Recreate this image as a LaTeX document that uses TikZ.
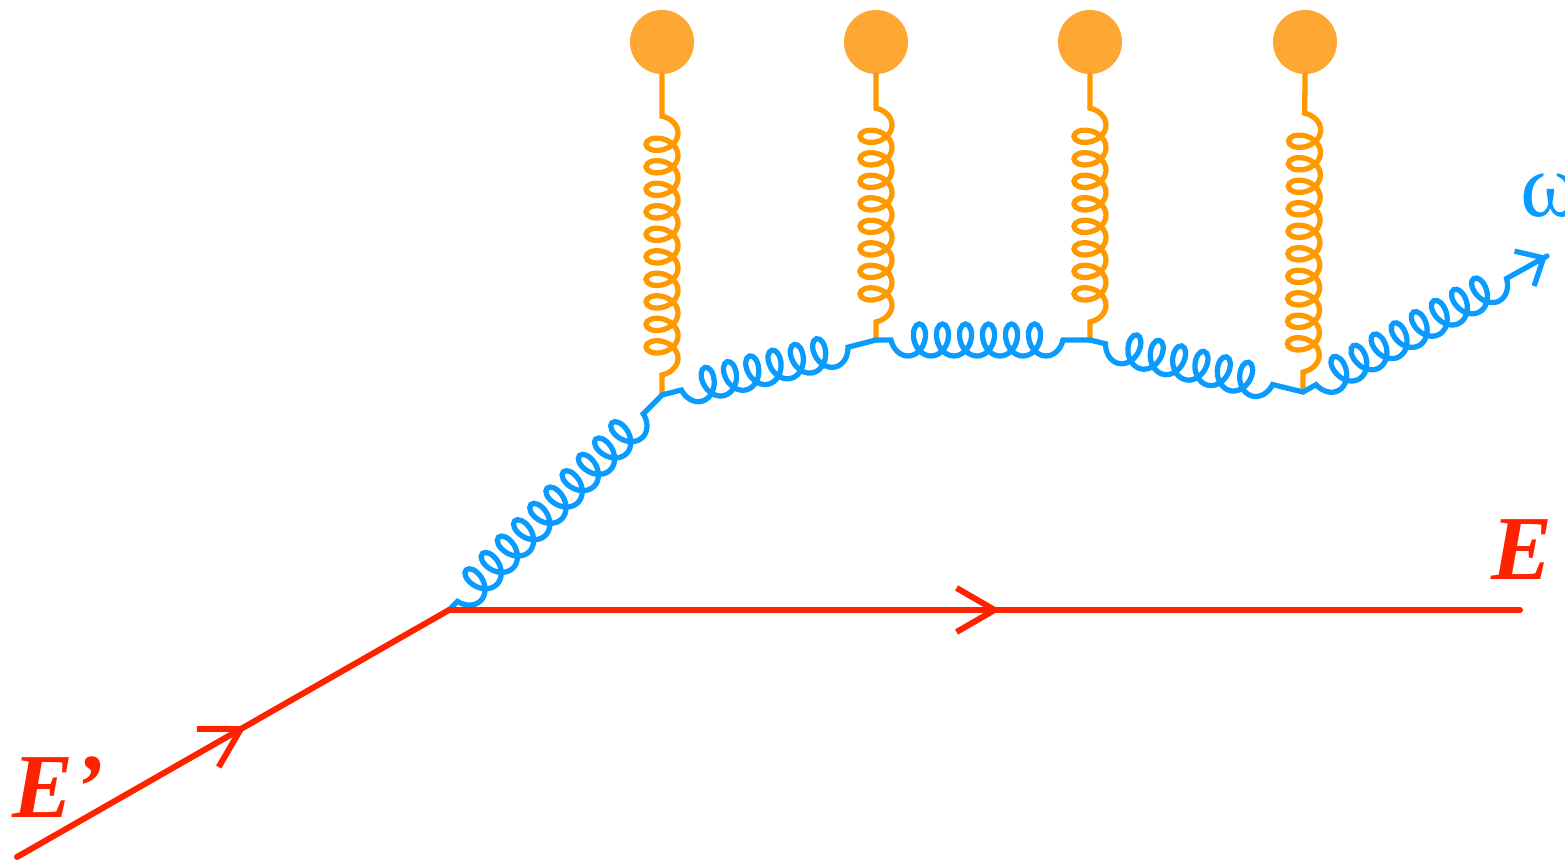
\documentclass[tikz,border=0pt]{standalone}
\usepackage{fontspec}
\setmainfont{Liberation Serif}
\usetikzlibrary{decorations.pathmorphing,decorations.markings,arrows.meta,calc}
\definecolor{fred}{HTML}{FF2200}
\definecolor{fblue}{HTML}{0A9BFF}
\definecolor{forange}{HTML}{FF9900}
\definecolor{fball}{HTML}{FFA733}
\begin{document}
\begin{tikzpicture}[x=0.01cm,y=-0.01cm,
  fermion/.style={draw=fred, line width=1.7pt, line cap=round},
  midarrow/.style={postaction={decorate, decoration={markings, mark=at position #1 with {\arrow[fred, line width=1.7pt]{Straight Barb[length=0.38cm,width=0.44cm]}}}}},
  bgl/.style 2 args={draw=fblue, line width=1.5pt, line cap=round, decorate, decoration={coil, mirror, aspect=0.7, amplitude=0.16cm, segment length=0.23cm, pre length=#1, post length=#2}},
  ogl/.style 2 args={draw=forange, line width=1.5pt, line cap=round, decorate, decoration={coil, mirror, aspect=0.7, amplitude=0.16cm, segment length=0.225cm, pre length=#1, post length=#2}},
  ball/.style={circle, fill=fball, minimum size=0.64cm, inner sep=0pt},
  lab/.style={font=\fontsize{26}{30}\selectfont\bfseries\itshape, text=fred, inner sep=0pt},
]
\useasboundingbox (0,0) rectangle (1565,861);
% vertices
\coordinate (s) at (17,857);
\coordinate (v0) at (449,610);
\coordinate (e) at (1520,610);
\coordinate (v1) at (662,395);
\coordinate (v2) at (876,340);
\coordinate (v3) at (1090,340);
\coordinate (v4) at (1303,392);
\coordinate (w) at (1547,256);
% balls
\node[ball] (b1) at (662,42) {};
\node[ball] (b2) at (876,42) {};
\node[ball] (b3) at (1090,42) {};
\node[ball] (b4) at (1305,42) {};
% orange gluons
\draw[ogl={0.2cm}{0.2cm}] (v1) -- (b1.south);
\draw[ogl={0.18cm}{0.2cm}] (v2) -- (b2.south);
\draw[ogl={0.18cm}{0.2cm}] (v3) -- (b3.south);
\draw[ogl={0.2cm}{0.2cm}] (v4) -- (b4.south);
% blue gluon
\draw[bgl={0.12cm}{0.12cm}] (v0) -- (v1);
\draw[bgl={0.2cm}{0.12cm}] (v1) -- (v2);
\draw[bgl={0.15cm}{0.12cm}] (v2) -- (v3);
\draw[bgl={0.16cm}{0.12cm}] (v3) -- (v4);
\draw[bgl={0.15cm}{0.45cm}] (v4) -- (w);
\draw[draw=fblue, line width=1.5pt, -{Straight Barb[length=0.22cm,width=0.4cm]}] ($(w)!0.01!(v4)$) -- (w);
% fermion lines
\draw[fermion, midarrow=0.53] (s) -- (v0);
\draw[fermion, midarrow=0.515] (v0) -- (e);
% labels
\node[lab] (lE1) at (58,787) {E’};
\node[lab] (lE) at (1522,550) {E};
\node[font=\fontsize{26}{30}\selectfont, text=fblue, inner sep=0pt] (lw) at (1551,196) {ω};
\end{tikzpicture}
\end{document}
